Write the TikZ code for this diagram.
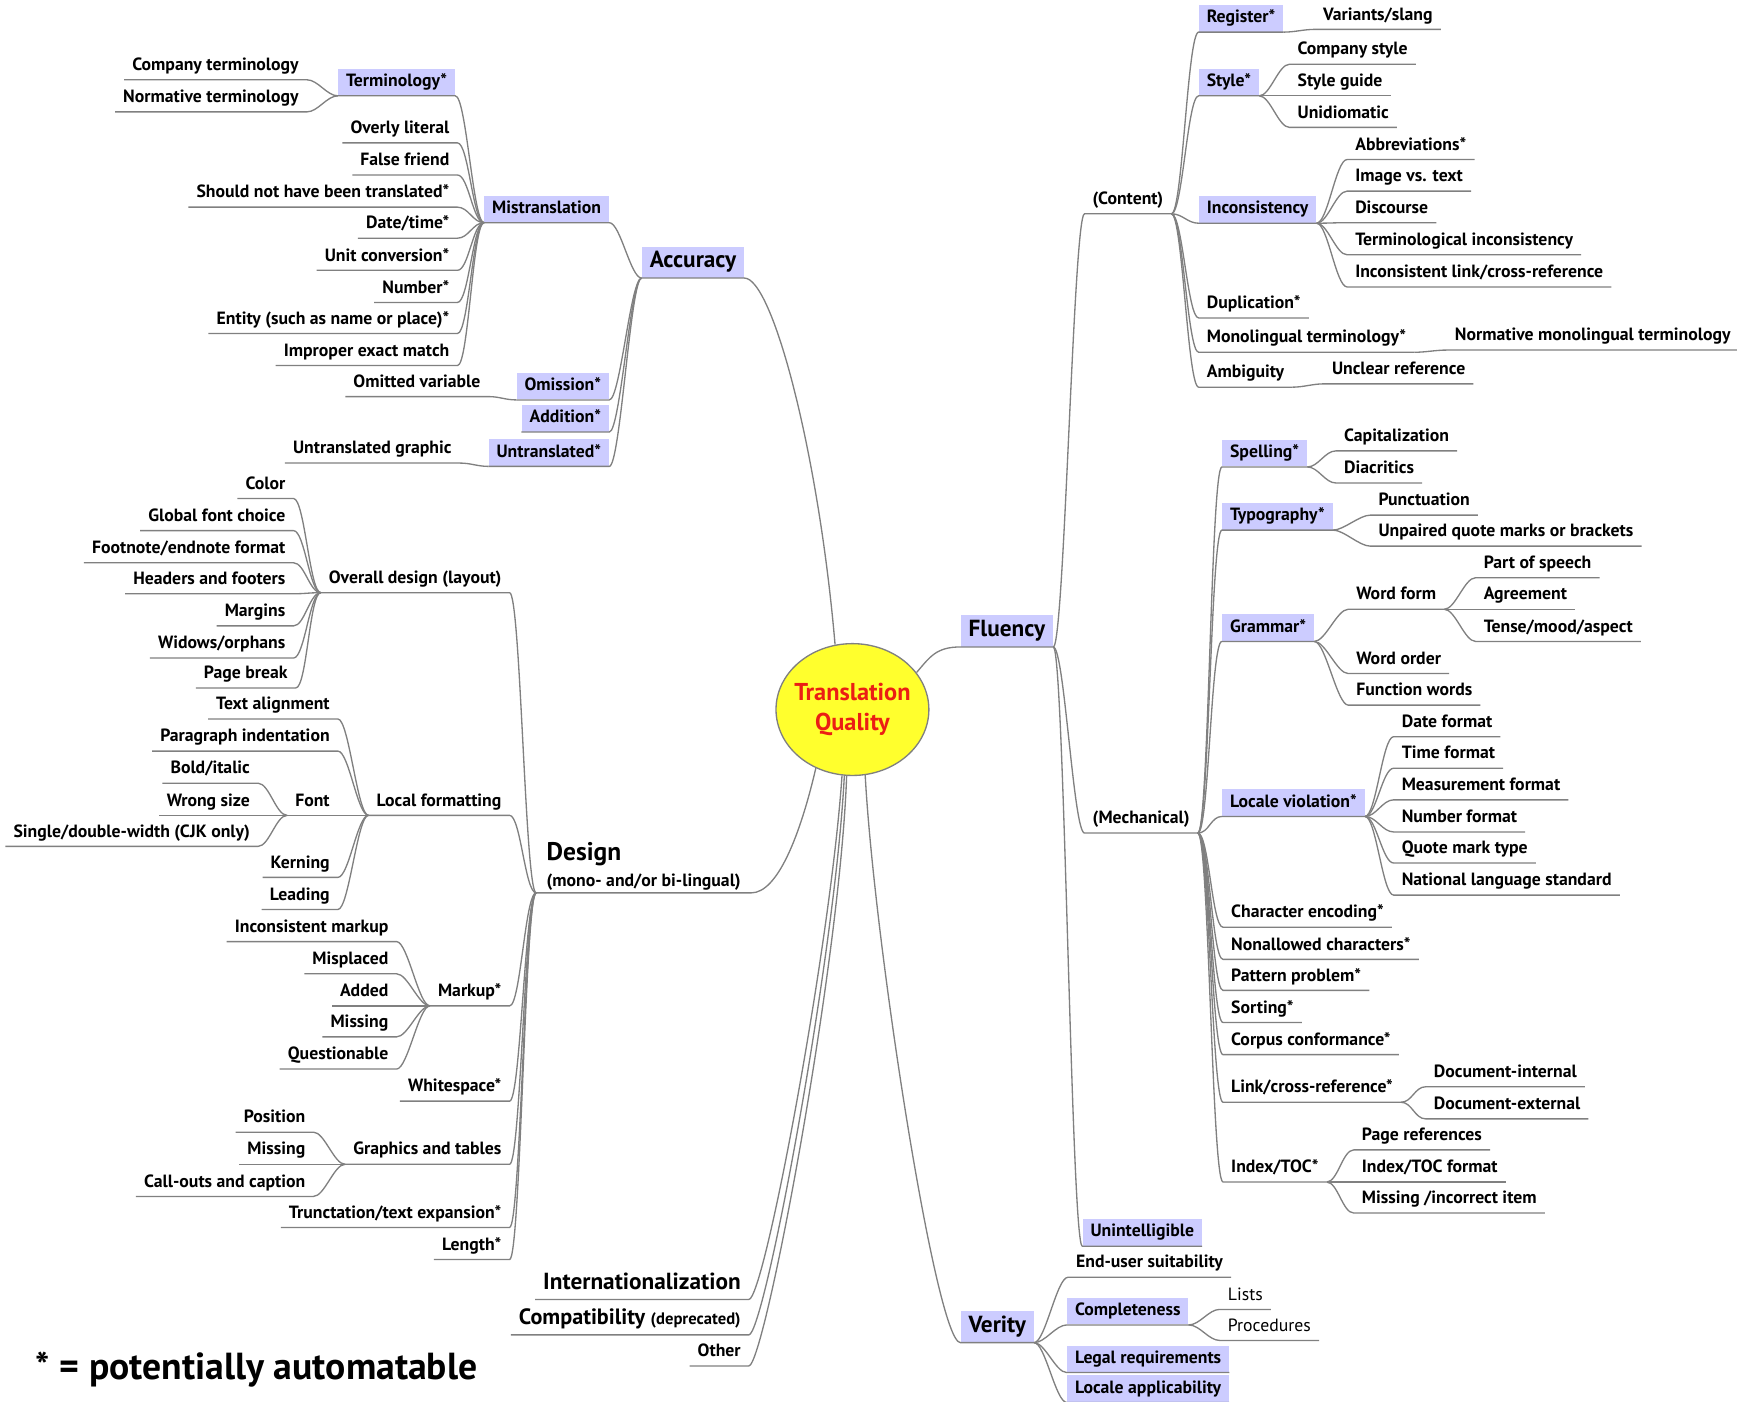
\documentclass[tikz,border=0pt]{standalone}
\usepackage{fontspec}
\setmainfont{PT Sans}
\usepackage{xcolor}
\usepackage{tikz}
\usetikzlibrary{shapes.geometric}
\definecolor{boxblue}{RGB}{204,204,255}
\definecolor{linegray}{RGB}{128,128,128}
\definecolor{tqyellow}{RGB}{255,255,45}
\definecolor{tqred}{RGB}{235,30,20}

\begin{document}
\begin{tikzpicture}[x=0.5pt, y=0.5pt,
  topic/.style={inner xsep=3.5pt, inner ysep=2pt, text height=6pt, text depth=2pt,
                font=\bfseries\fontsize{8}{9.6}\selectfont},
  hlbox/.style={topic, fill=boxblue},
  bigtopic/.style={topic, font=\bfseries\fontsize{10.5}{12.5}\selectfont,
                   text height=7.5pt, text depth=2.5pt},
  lnode/.style={anchor=south east},
  rnode/.style={anchor=south west},
  conn/.style={draw=linegray, line width=0.6pt},
  rto/.style={to path={.. controls +(10,0) and +(-10,0) .. (\tikztotarget)}},
  lto/.style={to path={.. controls +(-10,0) and +(10,0) .. (\tikztotarget)}}
]
\useasboundingbox (0,0) rectangle (1568,-1265);

\node[ellipse, draw=linegray, line width=0.6pt, fill=tqyellow, minimum width=69pt,
      minimum height=59.5pt, inner sep=-6pt, align=center, text=tqred,
      font=\bfseries\fontsize{11}{13.4}\selectfont] (tq) at (769.5,-640.5) {Translation\\Quality};

\node[bigtopic, fill=boxblue, lnode] (acc) at (672,-251) {Accuracy};
\node[hlbox, lnode] (mis) at (550,-201) {Mistranslation};
\node[hlbox, lnode] (omi) at (550,-361) {Omission*};
\node[hlbox, lnode] (add) at (550,-390) {Addition*};
\node[hlbox, lnode] (untr) at (550,-421) {Untranslated*};
\node[topic, lnode] (omivar) at (441,-358) {Omitted variable};
\node[topic, lnode] (untrg) at (415,-418) {Untranslated graphic};
\node[hlbox, lnode] (term) at (411,-86.5) {Terminology*};
\node[topic, lnode] (lit) at (413,-129) {Overly literal};
\node[topic, lnode] (ff) at (413,-158) {False friend};
\node[topic, lnode] (snt) at (413,-187) {Should not have been translated*};
\node[topic, lnode] (dt) at (413,-215) {Date/time*};
\node[topic, lnode] (unit) at (413,-244) {Unit conversion*};
\node[topic, lnode] (num) at (413,-273) {Number*};
\node[topic, lnode] (ent) at (413,-301) {Entity (such as name or place)*};
\node[topic, lnode] (iem) at (413,-330) {Improper exact match};
\node[topic, lnode] (cterm) at (277,-72) {Company terminology};
\node[topic, lnode] (nterm) at (277,-101) {Normative terminology};

\node[anchor=south west, inner xsep=4.5pt, inner ysep=1pt, align=left,
      font=\bfseries\fontsize{8}{9.6}\selectfont] (des) at (484,-806)
      {{\fontsize{11.5}{12}\selectfont Design}\\[2pt](mono- and/or bi-lingual)};
\node[topic, lnode] (ovd) at (460,-535) {Overall design (layout)};
\node[topic, lnode] (lf) at (460,-736) {Local formatting};
\node[topic, lnode] (mk) at (460,-908) {Markup*};
\node[topic, lnode] (ws) at (460,-994) {Whitespace*};
\node[topic, lnode] (gt) at (460,-1051) {Graphics and tables};
\node[topic, lnode] (tte) at (460,-1108) {Trunctation/text expansion*};
\node[topic, lnode] (len) at (460,-1137) {Length*};
\node[topic, lnode] (color) at (265,-450) {Color};
\node[topic, lnode] (gfc) at (265,-479) {Global font choice};
\node[topic, lnode] (fef) at (265,-508) {Footnote/endnote format};
\node[topic, lnode] (hf) at (265,-536) {Headers and footers};
\node[topic, lnode] (marg) at (265,-565) {Margins};
\node[topic, lnode] (wid) at (265,-594) {Widows/orphans};
\node[topic, lnode] (pb) at (267,-621) {Page break};
\node[topic, lnode] (ta) at (305,-649) {Text alignment};
\node[topic, lnode] (pi) at (305,-678) {Paragraph indentation};
\node[topic, lnode] (font) at (305,-736) {Font};
\node[topic, lnode] (kern) at (305,-792) {Kerning};
\node[topic, lnode] (lead) at (305,-821) {Leading};
\node[topic, lnode] (bi) at (233,-707) {Bold/italic};
\node[topic, lnode] (wsz) at (233,-736) {Wrong size};
\node[topic, lnode] (sdw) at (233,-764) {Single/double-width (CJK only)};
\node[topic, lnode] (incm) at (358,-850) {Inconsistent markup};
\node[topic, lnode] (mispl) at (358,-879) {Misplaced};
\node[topic, lnode] (added) at (358,-908) {Added};
\node[topic, lnode] (missm) at (358,-936) {Missing};
\node[topic, lnode] (quest) at (358,-965) {Questionable};
\node[topic, lnode] (pos) at (283,-1022) {Position};
\node[topic, lnode] (gmiss) at (283,-1051) {Missing};
\node[topic, lnode] (coc) at (283,-1080) {Call-outs and caption};

\node[bigtopic, lnode] (intl) at (676,-1173) {Internationalization};
\node[bigtopic, lnode, font=\bfseries\fontsize{10}{12}\selectfont] (compat) at (676,-1205)
      {Compatibility {\fontsize{7.5}{8}\selectfont(deprecated)}};
\node[topic, lnode] (other) at (676,-1233) {Other};
\node[anchor=base west, inner sep=0pt, font=\bfseries\fontsize{17}{20}\selectfont] (note)
      at (32,-1245) {* = potentially automatable};

\node[bigtopic, fill=boxblue, rnode] (flu) at (867,-584) {Fluency};
\node[topic, rnode] (cont) at (979,-193) {(Content)};
\node[topic, rnode] (mech) at (979,-752) {(Mechanical)};
\node[hlbox, rnode] (unint) at (977,-1125) {Unintelligible};
\node[hlbox, rnode] (reg) at (1082,-29) {Register*};
\node[hlbox, rnode] (sty) at (1082,-86.5) {Style*};
\node[hlbox, rnode] (inc) at (1082,-201.5) {Inconsistency};
\node[topic, rnode] (dup) at (1082,-287) {Duplication*};
\node[topic, rnode] (mono) at (1082,-318) {Monolingual terminology*};
\node[topic, rnode] (amb) at (1082,-349.5) {Ambiguity};
\node[topic, rnode] (var) at (1187,-26.5) {Variants/slang};
\node[topic, rnode] (cs) at (1164,-58) {Company style};
\node[topic, rnode] (sg) at (1164,-86.5) {Style guide};
\node[topic, rnode] (unid) at (1164,-115) {Unidiomatic};
\node[topic, rnode] (abbr) at (1216,-144) {Abbreviations*};
\node[topic, rnode] (ivt) at (1216,-172.5) {Image vs. text};
\node[topic, rnode] (disc) at (1216,-201) {Discourse};
\node[topic, rnode] (tinc) at (1216,-230) {Terminological inconsistency};
\node[topic, rnode] (ilink) at (1216,-259) {Inconsistent link/cross-reference};
\node[topic, rnode] (nmt) at (1306,-316) {Normative monolingual terminology};
\node[topic, rnode] (unclr) at (1195,-346.5) {Unclear reference};

\node[hlbox, rnode] (spel) at (1103,-421.5) {Spelling*};
\node[hlbox, rnode] (typo) at (1103,-478.5) {Typography*};
\node[hlbox, rnode] (gram) at (1103,-579) {Grammar*};
\node[hlbox, rnode] (loc) at (1103,-737) {Locale violation*};
\node[topic, rnode] (cenc) at (1104,-837) {Character encoding*};
\node[topic, rnode] (nonal) at (1104,-866) {Nonallowed characters*};
\node[topic, rnode] (patt) at (1104,-894) {Pattern problem*};
\node[topic, rnode] (sort) at (1104,-923) {Sorting*};
\node[topic, rnode] (corp) at (1104,-952) {Corpus conformance*};
\node[topic, rnode] (xref) at (1104,-995) {Link/cross-reference*};
\node[topic, rnode] (idx) at (1104,-1067) {Index/TOC*};
\node[topic, rnode] (cap) at (1206,-407) {Capitalization};
\node[topic, rnode] (diac) at (1206,-436) {Diacritics};
\node[topic, rnode] (punc) at (1237,-465) {Punctuation};
\node[topic, rnode] (unp) at (1237,-493) {Unpaired quote marks or brackets};
\node[topic, rnode] (wf) at (1217,-550) {Word form};
\node[topic, rnode] (wo) at (1217,-608) {Word order};
\node[topic, rnode] (fw) at (1217,-636.5) {Function words};
\node[topic, rnode] (pspeech) at (1332,-521.5) {Part of speech};
\node[topic, rnode] (agr) at (1332,-550) {Agreement};
\node[topic, rnode] (tma) at (1332,-579) {Tense/mood/aspect};
\node[topic, rnode] (datef) at (1258,-665) {Date format};
\node[topic, rnode] (timef) at (1258,-693.5) {Time format};
\node[topic, rnode] (measf) at (1258,-722) {Measurement format};
\node[topic, rnode] (numf) at (1258,-751) {Number format};
\node[topic, rnode] (qmt) at (1258,-779) {Quote mark type};
\node[topic, rnode] (nls) at (1258,-808) {National language standard};
\node[topic, rnode] (dint) at (1287,-981) {Document-internal};
\node[topic, rnode] (dext) at (1287,-1010) {Document-external};
\node[topic, rnode] (pref) at (1222,-1038) {Page references};
\node[topic, rnode] (idxf) at (1222,-1067) {Index/TOC format};
\node[topic, rnode] (mii) at (1222,-1095) {Missing /incorrect item};

\node[bigtopic, fill=boxblue, rnode] (ver) at (867,-1212) {Verity};
\node[topic, rnode] (eus) at (964,-1153) {End-user suitability};
\node[hlbox, rnode] (comp) at (963,-1196) {Completeness};
\node[hlbox, rnode] (legal) at (963,-1239) {Legal requirements};
\node[hlbox, rnode] (lapp) at (963,-1266) {Locale applicability};
\node[topic, rnode, font=\fontsize{8}{9.6}\selectfont] (lists) at (1101,-1182) {Lists};
\node[topic, rnode, font=\fontsize{8}{9.6}\selectfont] (proc) at (1101,-1210) {Procedures};

\draw[conn] (tq.105) .. controls +(-15,175) and +(25,0) .. (acc.south east) -- (acc.south west);
\draw[conn] (tq.30) .. controls +(12,14) and +(-22,0) .. (flu.south west) -- (flu.south east);
\draw[conn] (tq.238) .. controls +(-14,-60) and +(24,0) .. (des.south east) -- (des.south west);
\draw[conn] (tq.261) .. controls +(-10,-150) and +(14,0) .. (intl.south east) -- (intl.south west);
\draw[conn] (tq.263) .. controls +(-8,-160) and +(14,0) .. (compat.south east) -- (compat.south west);
\draw[conn] (tq.265) .. controls +(-6,-170) and +(14,0) .. (other.south east) -- (other.south west);
\draw[conn] (tq.281) .. controls +(8,-150) and +(-22,0) .. (ver.south west) -- (ver.south east);

\draw[conn] (acc.south west) to[lto] (mis.south east) -- (mis.south west);
\draw[conn] (acc.south west) to[lto] (omi.south east) -- (omi.south west);
\draw[conn] (acc.south west) to[lto] (add.south east) -- (add.south west);
\draw[conn] (acc.south west) to[lto] (untr.south east) -- (untr.south west);
\draw[conn] (omi.south west) to[lto] (omivar.south east) -- (omivar.south west);
\draw[conn] (untr.south west) to[lto] (untrg.south east) -- (untrg.south west);
\draw[conn] (mis.south west) to[lto] (term.south east) -- (term.south west);
\draw[conn] (mis.south west) to[lto] (lit.south east) -- (lit.south west);
\draw[conn] (mis.south west) to[lto] (ff.south east) -- (ff.south west);
\draw[conn] (mis.south west) to[lto] (snt.south east) -- (snt.south west);
\draw[conn] (mis.south west) to[lto] (dt.south east) -- (dt.south west);
\draw[conn] (mis.south west) to[lto] (unit.south east) -- (unit.south west);
\draw[conn] (mis.south west) to[lto] (num.south east) -- (num.south west);
\draw[conn] (mis.south west) to[lto] (ent.south east) -- (ent.south west);
\draw[conn] (mis.south west) to[lto] (iem.south east) -- (iem.south west);
\draw[conn] (term.south west) to[lto] (cterm.south east) -- (cterm.south west);
\draw[conn] (term.south west) to[lto] (nterm.south east) -- (nterm.south west);

\draw[conn] (des.south west) to[lto] (ovd.south east) -- (ovd.south west);
\draw[conn] (des.south west) to[lto] (lf.south east) -- (lf.south west);
\draw[conn] (des.south west) to[lto] (mk.south east) -- (mk.south west);
\draw[conn] (des.south west) to[lto] (ws.south east) -- (ws.south west);
\draw[conn] (des.south west) to[lto] (gt.south east) -- (gt.south west);
\draw[conn] (des.south west) to[lto] (tte.south east) -- (tte.south west);
\draw[conn] (des.south west) to[lto] (len.south east) -- (len.south west);
\draw[conn] (ovd.south west) to[lto] (color.south east) -- (color.south west);
\draw[conn] (ovd.south west) to[lto] (gfc.south east) -- (gfc.south west);
\draw[conn] (ovd.south west) to[lto] (fef.south east) -- (fef.south west);
\draw[conn] (ovd.south west) to[lto] (hf.south east) -- (hf.south west);
\draw[conn] (ovd.south west) to[lto] (marg.south east) -- (marg.south west);
\draw[conn] (ovd.south west) to[lto] (wid.south east) -- (wid.south west);
\draw[conn] (ovd.south west) to[lto] (pb.south east) -- (pb.south west);
\draw[conn] (lf.south west) to[lto] (ta.south east) -- (ta.south west);
\draw[conn] (lf.south west) to[lto] (pi.south east) -- (pi.south west);
\draw[conn] (lf.south west) to[lto] (font.south east) -- (font.south west);
\draw[conn] (lf.south west) to[lto] (kern.south east) -- (kern.south west);
\draw[conn] (lf.south west) to[lto] (lead.south east) -- (lead.south west);
\draw[conn] (font.south west) to[lto] (bi.south east) -- (bi.south west);
\draw[conn] (font.south west) to[lto] (wsz.south east) -- (wsz.south west);
\draw[conn] (font.south west) to[lto] (sdw.south east) -- (sdw.south west);
\draw[conn] (mk.south west) to[lto] (incm.south east) -- (incm.south west);
\draw[conn] (mk.south west) to[lto] (mispl.south east) -- (mispl.south west);
\draw[conn] (mk.south west) to[lto] (added.south east) -- (added.south west);
\draw[conn] (mk.south west) to[lto] (missm.south east) -- (missm.south west);
\draw[conn] (mk.south west) to[lto] (quest.south east) -- (quest.south west);
\draw[conn] (gt.south west) to[lto] (pos.south east) -- (pos.south west);
\draw[conn] (gt.south west) to[lto] (gmiss.south east) -- (gmiss.south west);
\draw[conn] (gt.south west) to[lto] (coc.south east) -- (coc.south west);

\draw[conn] (flu.south east) to[rto] (cont.south west) -- (cont.south east);
\draw[conn] (flu.south east) to[rto] (mech.south west) -- (mech.south east);
\draw[conn] (flu.south east) to[rto] (unint.south west) -- (unint.south east);
\draw[conn] (cont.south east) to[rto] (reg.south west) -- (reg.south east);
\draw[conn] (cont.south east) to[rto] (sty.south west) -- (sty.south east);
\draw[conn] (cont.south east) to[rto] (inc.south west) -- (inc.south east);
\draw[conn] (cont.south east) to[rto] (dup.south west) -- (dup.south east);
\draw[conn] (cont.south east) to[rto] (mono.south west) -- (mono.south east);
\draw[conn] (cont.south east) to[rto] (amb.south west) -- (amb.south east);
\draw[conn] (reg.south east) to[rto] (var.south west) -- (var.south east);
\draw[conn] (sty.south east) to[rto] (cs.south west) -- (cs.south east);
\draw[conn] (sty.south east) to[rto] (sg.south west) -- (sg.south east);
\draw[conn] (sty.south east) to[rto] (unid.south west) -- (unid.south east);
\draw[conn] (inc.south east) to[rto] (abbr.south west) -- (abbr.south east);
\draw[conn] (inc.south east) to[rto] (ivt.south west) -- (ivt.south east);
\draw[conn] (inc.south east) to[rto] (disc.south west) -- (disc.south east);
\draw[conn] (inc.south east) to[rto] (tinc.south west) -- (tinc.south east);
\draw[conn] (inc.south east) to[rto] (ilink.south west) -- (ilink.south east);
\draw[conn] (mono.south east) to[rto] (nmt.south west) -- (nmt.south east);
\draw[conn] (amb.south east) to[rto] (unclr.south west) -- (unclr.south east);

\draw[conn] (mech.south east) to[rto] (spel.south west) -- (spel.south east);
\draw[conn] (mech.south east) to[rto] (typo.south west) -- (typo.south east);
\draw[conn] (mech.south east) to[rto] (gram.south west) -- (gram.south east);
\draw[conn] (mech.south east) to[rto] (loc.south west) -- (loc.south east);
\draw[conn] (mech.south east) to[rto] (cenc.south west) -- (cenc.south east);
\draw[conn] (mech.south east) to[rto] (nonal.south west) -- (nonal.south east);
\draw[conn] (mech.south east) to[rto] (patt.south west) -- (patt.south east);
\draw[conn] (mech.south east) to[rto] (sort.south west) -- (sort.south east);
\draw[conn] (mech.south east) to[rto] (corp.south west) -- (corp.south east);
\draw[conn] (mech.south east) to[rto] (xref.south west) -- (xref.south east);
\draw[conn] (mech.south east) to[rto] (idx.south west) -- (idx.south east);
\draw[conn] (spel.south east) to[rto] (cap.south west) -- (cap.south east);
\draw[conn] (spel.south east) to[rto] (diac.south west) -- (diac.south east);
\draw[conn] (typo.south east) to[rto] (punc.south west) -- (punc.south east);
\draw[conn] (typo.south east) to[rto] (unp.south west) -- (unp.south east);
\draw[conn] (gram.south east) to[rto] (wf.south west) -- (wf.south east);
\draw[conn] (gram.south east) to[rto] (wo.south west) -- (wo.south east);
\draw[conn] (gram.south east) to[rto] (fw.south west) -- (fw.south east);
\draw[conn] (wf.south east) to[rto] (pspeech.south west) -- (pspeech.south east);
\draw[conn] (wf.south east) to[rto] (agr.south west) -- (agr.south east);
\draw[conn] (wf.south east) to[rto] (tma.south west) -- (tma.south east);
\draw[conn] (loc.south east) to[rto] (datef.south west) -- (datef.south east);
\draw[conn] (loc.south east) to[rto] (timef.south west) -- (timef.south east);
\draw[conn] (loc.south east) to[rto] (measf.south west) -- (measf.south east);
\draw[conn] (loc.south east) to[rto] (numf.south west) -- (numf.south east);
\draw[conn] (loc.south east) to[rto] (qmt.south west) -- (qmt.south east);
\draw[conn] (loc.south east) to[rto] (nls.south west) -- (nls.south east);
\draw[conn] (xref.south east) to[rto] (dint.south west) -- (dint.south east);
\draw[conn] (xref.south east) to[rto] (dext.south west) -- (dext.south east);
\draw[conn] (idx.south east) to[rto] (pref.south west) -- (pref.south east);
\draw[conn] (idx.south east) to[rto] (idxf.south west) -- (idxf.south east);
\draw[conn] (idx.south east) to[rto] (mii.south west) -- (mii.south east);

\draw[conn] (ver.south east) to[rto] (eus.south west) -- (eus.south east);
\draw[conn] (ver.south east) to[rto] (comp.south west) -- (comp.south east);
\draw[conn] (ver.south east) to[rto] (legal.south west) -- (legal.south east);
\draw[conn] (ver.south east) to[rto] (lapp.south west) -- (lapp.south east);
\draw[conn] (comp.south east) to[rto] (lists.south west) -- (lists.south east);
\draw[conn] (comp.south east) to[rto] (proc.south west) -- (proc.south east);
\end{tikzpicture}
\end{document}
